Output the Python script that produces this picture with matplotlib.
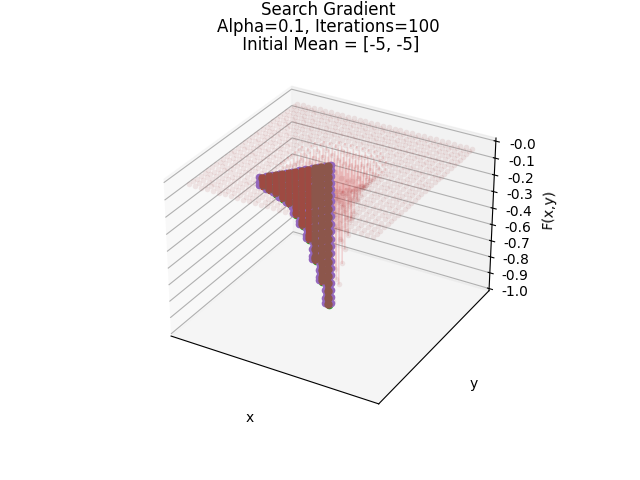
import numpy as np
import matplotlib
matplotlib.use("Agg")
import matplotlib.pyplot as plt

# z axis
z_ticks = [-1.0, -0.889, -0.778, -0.667, -0.556, -0.444, -0.333, -0.222, -0.111, 0.0]
z_labels = ["-1.0", "-0.9", "-0.8", "-0.7", "-0.6", "-0.4", "-0.3", "-0.2", "-0.1", "-0.0"]

# flat part of the surface, sampled on this grid
grid_steps = list(range(-15, 16))
grid_unit = 0.313
flat_z = -0.03

# depth of the well, one quarter of it (centre is row 0, column 0)
well_depth = [
    [.93, .80, .55, .35, .20, .12, .07, .035],
    [.80, .68, .48, .32, .19, .115, .068, .035],
    [.55, .48, .38, .26, .16, .10, .058, .035],
    [.35, .32, .26, .18, .12, .08, .045, .035],
    [.20, .19, .16, .12, .085, .055, .035, .035],
    [.12, .115, .10, .08, .055, .035, .035, .03],
    [.07, .068, .058, .045, .035, .035, .03, .03],
    [.035, .035, .035, .035, .03, .03, .03, .03],
]

# the search path columns, from the start of the triangle to the centre
col_x = [-2.2, -2.0, -1.8, -1.6, -1.4, -1.2, -1.0, -0.8, -0.6, -0.4, -0.2]
col_y = [-2.52, -2.28, -2.04, -1.8, -1.56, -1.32, -1.08, -0.84, -0.6, -0.36, -0.12]
col_bottom = [-.08, -.11, -.14, -.18, -.22, -.30, -.38, -.48, -.63, -.78, -.95]
levels = [-.03, -.06, -.1, -.14, -.18, -.22, -.26, -.31, -.36, -.41, -.46, -.51, -.56, -.61, -.66, -.71, -.76, -.81, -.86, -.91]

# colour and small offset of every sampled series, bottom one first
series_colors = ["C1", "C2", "C3", "C4", "C4", "C5"]
series_dx = [0.03, 0.08, 0.05, 0.1, -0.14, 0.0]
series_dy = [-0.03, -0.08, -0.05, 0.14, -0.05, 0.0]
series_size = [4.0, 4.5, 4.5, 4.5, 4.5, 5.0]
series_width = [2.5, 2.5, 2.5, 2.5, 2.5, 4.0]

fig = plt.figure(figsize=(6.4, 4.8), dpi=100)
ax = fig.add_subplot(projection="3d")
ax.computed_zorder = False

gx, gy, gz = [], [], []
for i in grid_steps:
    for j in grid_steps:
        x = i * grid_unit
        y = j * grid_unit
        z = flat_z
        if abs(i) < 8 and abs(j) < 8:
            z = -well_depth[abs(i)][abs(j)]
            ax.plot([x, x], [y, y], [flat_z, z], color="C3", alpha=0.16, lw=1.2, zorder=2)
        gx.append(x)
        gy.append(y)
        gz.append(z)
ax.scatter(gx, gy, gz, color="#a03c3c", alpha=0.11, s=16, linewidths=0, depthshade=False, zorder=3)

order = 5
for color, dx, dy, ms, lw in zip(series_colors, series_dx, series_dy, series_size, series_width):
    for x, y, bottom in zip(col_x, col_y, col_bottom):
        zs = [z for z in levels if z >= bottom] + [bottom]
        ax.plot([x + dx] * len(zs), [y + dy] * len(zs), zs, color=color, marker="o",
                ms=ms, lw=lw, zorder=order)
    order += 1

# red tint over the upper columns
for x, y, bottom in zip(col_x[:8], col_y[:8], col_bottom[:8]):
    ax.plot([x, x], [y, y], [-.03, bottom], color="C3", alpha=0.25, lw=4, zorder=order)

ax.set_xlim(-5.5, 5.5)
ax.set_ylim(-5.5, 5.5)
ax.set_zlim(-1.015, 0.02)
ax.set_xticks([])
ax.set_yticks([])
ax.set_zticks(z_ticks)
ax.set_zticklabels(z_labels)
ax.set_xlabel("x")
ax.set_ylabel("y")
ax.set_zlabel("F(x,y)")
ax.set_title("Search Gradient\nAlpha=0.1, Iterations=100\n Initial Mean = [-5, -5]", linespacing=0.95)

fig.savefig("out.png", dpi=100)
